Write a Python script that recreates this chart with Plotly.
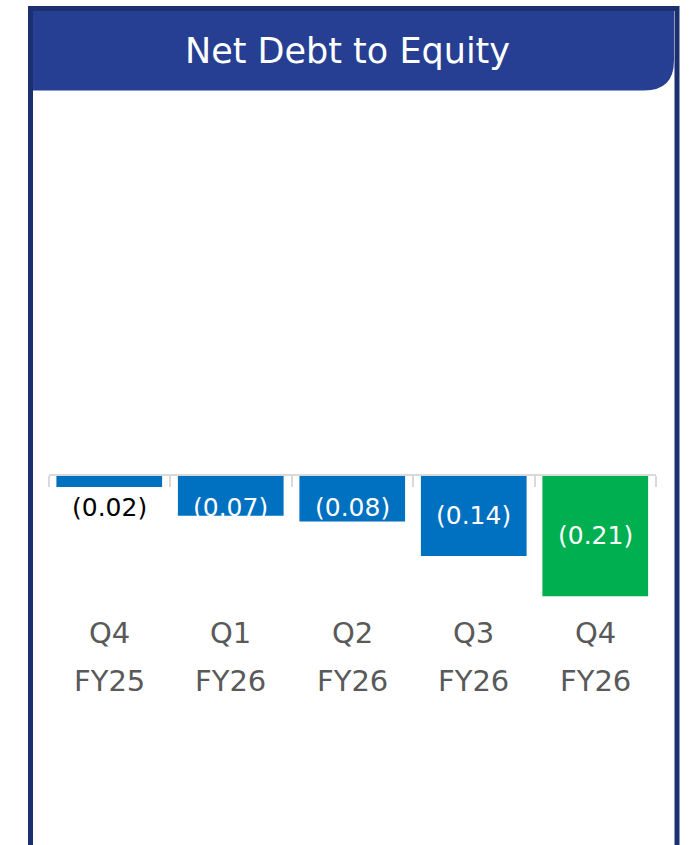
import plotly.graph_objects as go

# ---- data ----
quarters = ["Q4", "Q1", "Q2", "Q3", "Q4"]
fiscal_years = ["FY25", "FY26", "FY26", "FY26", "FY26"]
values = [-0.02, -0.07, -0.08, -0.14, -0.21]
value_labels = ["(0.02)", "(0.07)", "(0.08)", "(0.14)", "(0.21)"]
bar_colors = ["#0070C0", "#0070C0", "#0070C0", "#0070C0", "#00B050"]
title_text = "Net Debt to Equity"

# ---- geometry helpers (canvas pixels -> paper) ----
W, H = 689, 845
def px(x):
    return x / W
def py(y):
    return 1 - y / H

cats = [f"{q}|{fy}|{i}" for i, (q, fy) in enumerate(zip(quarters, fiscal_years))]

scale = 575.0          # pixels per unit
zero_px = 475.5
plot_top, plot_bot = 100, 845
ymax = (zero_px - plot_top) / scale
ymin = -(plot_bot - zero_px) / scale

FONT = "DejaVu Sans"

fig = go.Figure()
fig.add_trace(go.Bar(
    x=cats, y=values, marker=dict(color=bar_colors, line=dict(width=0)),
    hoverinfo="skip", showlegend=False,
))

annotations = []
for c, v, lab, q, fy in zip(cats, values, value_labels, quarters, fiscal_years):
    inside = abs(v) >= 0.05
    annotations.append(dict(
        x=c, y=min(v / 2, -0.056), xref="x", yref="y", text=lab, showarrow=False,
        font=dict(family=FONT, size=25, color="white" if inside else "black"),
        xanchor="center", yanchor="middle",
    ))
    annotations.append(dict(
        x=c, y=0, xref="x", yref="y", text=q, showarrow=False, yshift=-(633 - zero_px),
        font=dict(family=FONT, size=29, color="#595959"), xanchor="center", yanchor="middle",
    ))
    annotations.append(dict(
        x=c, y=0, xref="x", yref="y", text=fy, showarrow=False, yshift=-(681 - zero_px),
        font=dict(family=FONT, size=29, color="#595959"), xanchor="center", yanchor="middle",
    ))

annotations.append(dict(
    x=px(347), y=py(51), xref="paper", yref="paper", text=title_text, showarrow=False,
    font=dict(family=FONT, size=35, color="white"), xanchor="center", yanchor="middle",
))

# header band with rounded bottom-right corner
x0, x1, y0, y1, r = 33, 674, 11, 90.5, 30
header_path = (
    f"M {px(x0)} {py(y0)} L {px(x1)} {py(y0)} L {px(x1)} {py(y1 - r)} "
    f"Q {px(x1)} {py(y1)} {px(x1 - r)} {py(y1)} L {px(x0)} {py(y1)} Z"
)

shapes = [
    dict(type="path", xref="paper", yref="paper", path=header_path,
         fillcolor="#263F93", line=dict(width=0), layer="below"),
    dict(type="rect", xref="paper", yref="paper",
         x0=px(30.5), x1=px(677), y0=py(8.5), y1=py(860),
         line=dict(color="#1C3070", width=5), fillcolor="rgba(0,0,0,0)", layer="above"),
]

fig.update_layout(
    width=W, height=H, margin=dict(l=0, r=0, t=0, b=0),
    paper_bgcolor="white", plot_bgcolor="white",
    bargap=0.13,
    xaxis=dict(
        domain=[px(48.5), px(656)], range=[-0.5, 4.5], type="category",
        anchor="free", position=py(zero_px - 1), side="bottom",
        showline=True, linecolor="#D9D9D9", linewidth=2,
        ticks="outside", tickson="boundaries", ticklen=11, tickwidth=2, tickcolor="#D9D9D9",
        showticklabels=False, showgrid=False, zeroline=False, fixedrange=True,
    ),
    yaxis=dict(
        domain=[0, py(plot_top)], range=[ymin, ymax], visible=False,
        showgrid=False, zeroline=False, fixedrange=True,
    ),
    annotations=annotations, shapes=shapes, showlegend=False,
)

fig.write_html("out.html")
